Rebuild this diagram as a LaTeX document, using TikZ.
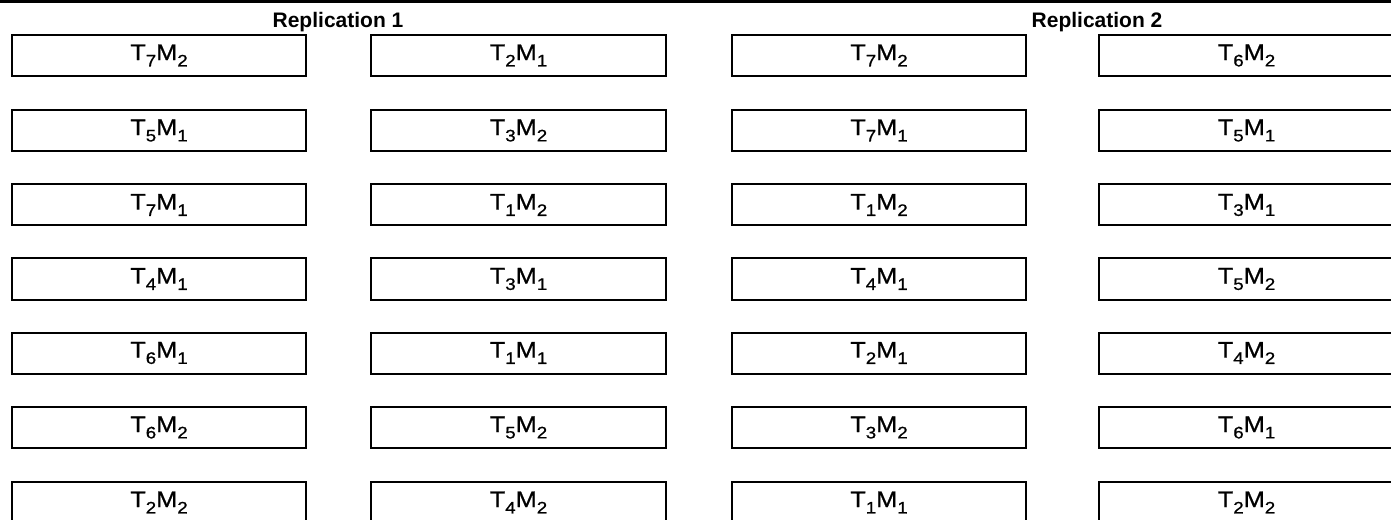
\documentclass[tikz,border=0pt]{standalone}
\usepackage{graphicx}
\usepackage{fontspec}
\setmainfont{Liberation Sans}
\newfontfamily\plotfont{Liberation Sans}[FakeBold=0.8]
\usetikzlibrary{positioning}

\newcommand{\subsc}[1]{\raisebox{-0.28em}{\fontsize{12.5}{14}\selectfont #1}}
\newcommand{\treat}[2]{\scalebox{1.12}[1]{T\subsc{#1}M\subsc{#2}}}

\begin{document}
\begin{tikzpicture}[x=0.75pt, y=-0.75pt,
    plotbox/.style={draw, line width=1.5pt, minimum width=221pt, minimum height=30.75pt, inner sep=0pt,
        font=\plotfont\fontsize{17}{19}\selectfont},
    rephead/.style={font=\bfseries\fontsize{15.75}{19}\selectfont, anchor=base}]
    \useasboundingbox (0,0) rectangle (1391,520);
    \clip (0,0) rectangle (1391,520);
    % Top rule
    \coordinate (ruleL) at (0,1.5);
    \coordinate (ruleR) at (1391,1.5);
    \draw[line width=1.9pt] (ruleL) -- (ruleR);
    % Headers
    \node[rephead] (rep1) at (338,28) {Replication 1};
    \node[rephead] (rep2) at (1097,28) {Replication 2};
    % Replication 1, first column
    \node[plotbox] (a1) at (159,55.5) {\treat{7}{2}};
    \node[plotbox] (a2) at (159,130.5) {\treat{5}{1}};
    \node[plotbox] (a3) at (159,205) {\treat{7}{1}};
    \node[plotbox] (a4) at (159,279) {\treat{4}{1}};
    \node[plotbox] (a5) at (159,353) {\treat{6}{1}};
    \node[plotbox] (a6) at (159,427.5) {\treat{6}{2}};
    \node[plotbox] (a7) at (159,502.5) {\treat{2}{2}};
    % Replication 1, second column
    \node[plotbox] (b1) at (518.5,55.5) {\treat{2}{1}};
    \node[plotbox] (b2) at (518.5,130.5) {\treat{3}{2}};
    \node[plotbox] (b3) at (518.5,205) {\treat{1}{2}};
    \node[plotbox] (b4) at (518.5,279) {\treat{3}{1}};
    \node[plotbox] (b5) at (518.5,353) {\treat{1}{1}};
    \node[plotbox] (b6) at (518.5,427.5) {\treat{5}{2}};
    \node[plotbox] (b7) at (518.5,502.5) {\treat{4}{2}};
    % Replication 2, first column
    \node[plotbox] (c1) at (879,55.5) {\treat{7}{2}};
    \node[plotbox] (c2) at (879,130.5) {\treat{7}{1}};
    \node[plotbox] (c3) at (879,205) {\treat{1}{2}};
    \node[plotbox] (c4) at (879,279) {\treat{4}{1}};
    \node[plotbox] (c5) at (879,353) {\treat{2}{1}};
    \node[plotbox] (c6) at (879,427.5) {\treat{3}{2}};
    \node[plotbox] (c7) at (879,502.5) {\treat{1}{1}};
    % Replication 2, second column
    \node[plotbox] (d1) at (1246.5,55.5) {\treat{6}{2}};
    \node[plotbox] (d2) at (1246.5,130.5) {\treat{5}{1}};
    \node[plotbox] (d3) at (1246.5,205) {\treat{3}{1}};
    \node[plotbox] (d4) at (1246.5,279) {\treat{5}{2}};
    \node[plotbox] (d5) at (1246.5,353) {\treat{4}{2}};
    \node[plotbox] (d6) at (1246.5,427.5) {\treat{6}{1}};
    \node[plotbox] (d7) at (1246.5,502.5) {\treat{2}{2}};
\end{tikzpicture}
\end{document}
